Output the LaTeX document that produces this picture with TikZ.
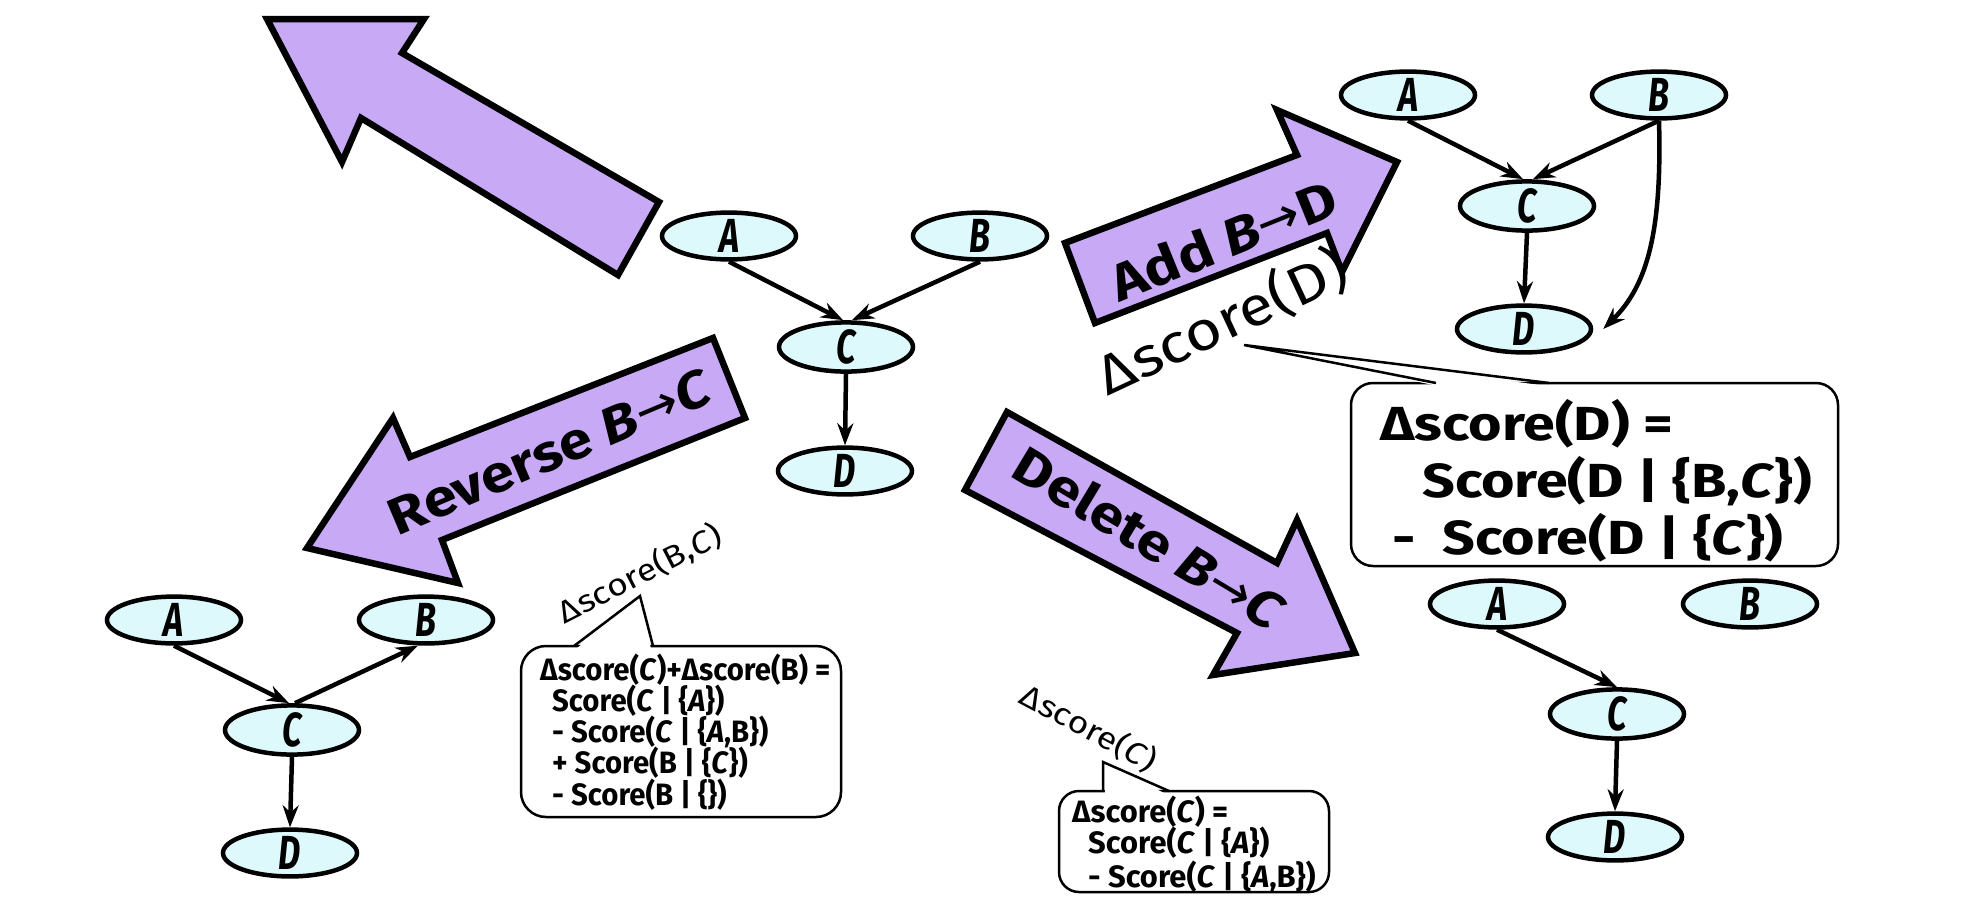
\documentclass[tikz,border=0pt]{standalone}
\usepackage{fontspec}
\setmainfont{Fira Sans}
\newfontfamily\bigboxfont[FakeStretch=1.2]{Fira Sans}
\newfontfamily\labelfont[FakeStretch=1.15]{Fira Sans}
\newfontfamily\scorefont[FakeStretch=1.15]{Fira Sans}
\newfontfamily\revboxfont[FakeStretch=0.95]{Fira Sans}
\newfontfamily\letterfont[FakeStretch=0.72]{Fira Sans}
\newfontfamily\arrowfont{DejaVu Sans}
\newcommand{\toarr}{{\arrowfont\mdseries\upshape →}}
\usetikzlibrary{arrows.meta,shapes.geometric}
\definecolor{arrowfill}{HTML}{C8A9F6}
\definecolor{nodefill}{HTML}{DEF9FB}
\tikzset{
  bn/.style={ellipse, draw=black, line width=4.5bp, fill=nodefill, minimum width=134bp, minimum height=46bp, inner sep=0pt, font=\letterfont\bfseries\itshape\fontsize{48}{48}\selectfont},
  edge/.style={line width=4.5bp, -{Stealth[length=22bp,width=16bp]}},
  bigarrow/.style={fill=arrowfill, draw=black, line width=6.5bp, line join=miter},
  arrowlabel/.style={font=\labelfont\bfseries\fontsize{52}{52}\selectfont, inner sep=0pt},
  bigscore/.style={font=\scorefont\fontsize{55}{55}\selectfont, inner sep=0pt},
  smallscore/.style={font=\scorefont\fontsize{31}{31}\selectfont, inner sep=0pt},
  callout/.style={draw=black, line width=2.5bp, fill=white, rounded corners=22bp, inner sep=0pt},
  pointer/.style={draw=black, line width=2.5bp, line join=miter},
  bigline/.style={font=\bigboxfont\bfseries\fontsize{48}{48}\selectfont, anchor=west, inner sep=0pt},
  smallline/.style={font=\bfseries\fontsize{31}{31}\selectfont, anchor=west, inner sep=0pt},
  revline/.style={font=\revboxfont\bfseries\fontsize{31}{31}\selectfont, anchor=west, inner sep=0pt}
}
\begin{document}
\begin{tikzpicture}[x=1bp,y=-1bp]
\useasboundingbox (0,0) rectangle (1968,918);
% large move arrows
\draw[bigarrow] (267,19) -- (424,19) -- (402,53) -- (659,202) -- (618,275) -- (361,118) -- (342,162) -- cycle;
\draw[bigarrow] (1065,243) -- (1297,155) -- (1277,110) -- (1397,162) -- (1342,272) -- (1327,233) -- (1095,323) -- cycle;
\draw[bigarrow] (713,338) -- (745,418) -- (442,540) -- (458,583) -- (307,548) -- (393,418) -- (410,457) -- cycle;
\draw[bigarrow] (1007,412) -- (965,490) -- (1237,633) -- (1213,675) -- (1355,653) -- (1297,520) -- (1277,563) -- cycle;
% arrow labels
\node[arrowlabel, rotate=22] (addlbl) at (1223,240) {Add \textit{B}\toarr D};
\node[arrowlabel, rotate=23] (revlbl) at (550,452) {Reverse \textit{B}\toarr\textit{C}};
\node[arrowlabel, rotate=-31] (dellbl) at (1150,538) {Delete \textit{B}\toarr\textit{C}};
% score labels
\node[bigscore, rotate=25] (sD) at (1222,322) {Δscore(D)};
\node[smallscore, rotate=27] (sBC) at (640,574) {Δscore(B,\textit{C})};
\node[smallscore, rotate=-28] (sC) at (1089,728) {Δscore(\textit{C})};
% centre graph
\node[bn] (A1) at (729,236) {A};
\node[bn] (B1) at (980,236) {B};
\node[bn] (C1) at (846,347) {C};
\node[bn] (D1) at (845,471) {D};
\draw[edge] (A1.south) -- ([xshift=-3bp]C1.north);
\draw[edge] (B1.south) -- ([xshift=6bp]C1.north);
\draw[edge] (C1.south) -- (D1.north);
% add graph
\node[bn] (A2) at (1408,95) {A};
\node[bn] (B2) at (1659,95) {B};
\node[bn] (C2) at (1527,206) {C};
\node[bn] (D2) at (1524,329) {D};
\draw[edge] (A2.south) -- ([xshift=-4bp]C2.north);
\draw[edge] (B2.south) -- ([xshift=6bp]C2.north);
\draw[edge] (C2.south) -- (D2.north);
\draw[edge] (B2.south) .. controls (1662,230) and (1648,285) .. ([xshift=10bp]D2.east);
% reverse graph
\node[bn] (A3) at (174,620) {A};
\node[bn] (B3) at (426,620) {B};
\node[bn] (C3) at (292,730) {C};
\node[bn] (D3) at (290,853) {D};
\draw[edge] (A3.south) -- ([xshift=-3bp]C3.north);
\draw[edge] ([xshift=3bp]C3.north) -- ([xshift=-8bp]B3.south);
\draw[edge] (C3.south) -- (D3.north);
% delete graph
\node[bn] (A4) at (1497,604) {A};
\node[bn] (B4) at (1750,604) {B};
\node[bn] (C4) at (1617,714) {C};
\node[bn] (D4) at (1615,837) {D};
\draw[edge] (A4.south) -- (C4.north);
\draw[edge] (C4.south) -- (D4.north);
% callout for add
\node[callout, minimum width=487bp, minimum height=183bp] (boxD) at (1594.5,474.5) {};
\fill[white] (1438,386) -- (1244,345) -- (1547,386) -- cycle;
\draw[pointer] (1436,383) -- (1244,345) -- (1549,383);
\node[bigline] (d1) at (1380,424) {Δscore(D) =};
\node[bigline] (d2) at (1422,481) {Score(D | \{B,\textit{C}\})};
\node[bigline] (d3) at (1392,538) {-\ \ Score(D | \{\textit{C}\})};
% callout for reverse
\node[callout, rounded corners=25bp, minimum width=320bp, minimum height=171bp] (boxR) at (681,731.5) {};
\fill[white] (576,649) -- (640,596) -- (651,649) -- cycle;
\draw[pointer] (574,646) -- (640,596) -- (653,646);
\node[revline] (r1) at (540,670) {Δscore(\textit{C})+Δscore(B) =};
\node[revline] (r2) at (552,701) {Score(\textit{C} | \{\textit{A}\})};
\node[revline] (r3) at (552,732) {-\ Score(\textit{C} | \{\textit{A},B\})};
\node[revline] (r4) at (552,763) {+ Score(B | \{\textit{C}\})};
\node[revline] (r5) at (552,795) {-\ Score(B | \{\})};
% callout for delete
\node[callout, rounded corners=20bp, minimum width=270bp, minimum height=101bp] (boxC) at (1194,841.5) {};
\fill[white] (1105,794) -- (1103,762) -- (1166,794) -- cycle;
\draw[pointer] (1103,791) -- (1103,762) -- (1169,791);
\node[smallline] (e1) at (1072,812) {Δscore(\textit{C}) =};
\node[smallline] (e2) at (1088,843) {Score(\textit{C} | \{\textit{A}\})};
\node[smallline] (e3) at (1088,877) {-\ Score(\textit{C} | \{\textit{A},B\})};
\end{tikzpicture}
\end{document}
